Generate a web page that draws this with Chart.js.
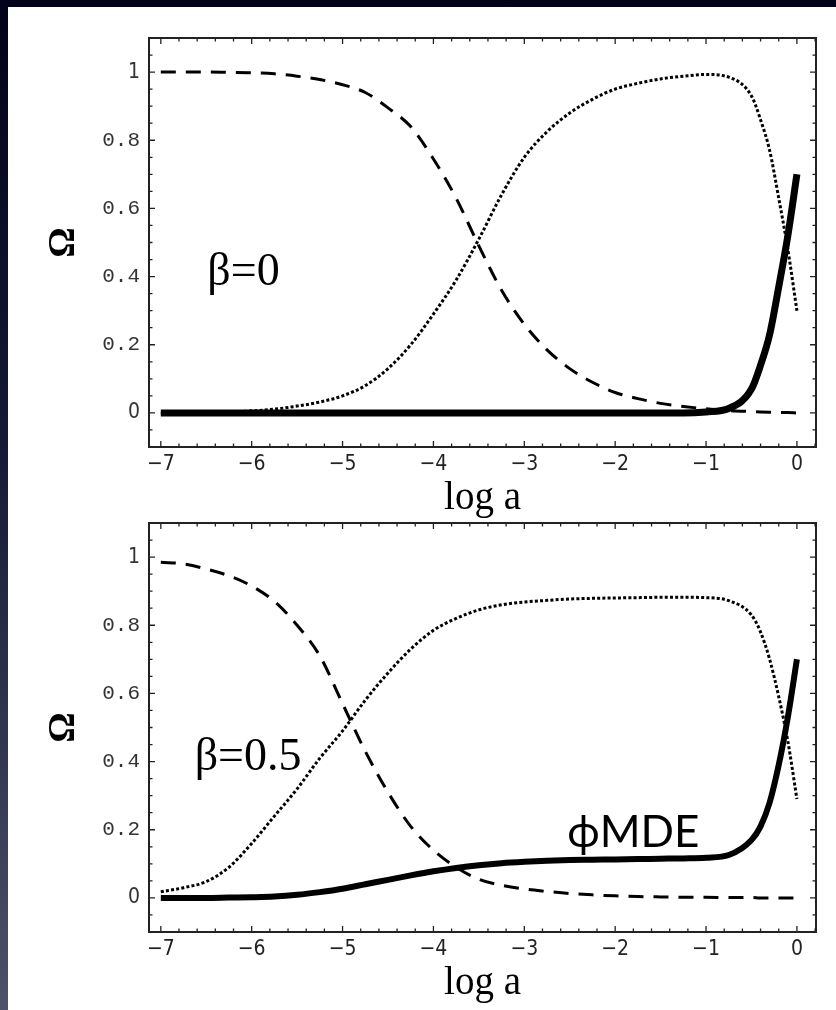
<!DOCTYPE html>
<html>
<head>
<meta charset="utf-8">
<script src="https://cdn.jsdelivr.net/npm/chart.js@4/dist/chart.umd.min.js"></script>
<style>
  html, body { margin: 0; padding: 0; }
  body {
    width: 836px; height: 1010px; position: relative; overflow: hidden;
    background: linear-gradient(to bottom, #02031a 0%, #151a36 45%, #4d5169 100%);
  }
  #sheet { position: absolute; left: 8px; top: 7px; right: 0; bottom: 0; background: #fff; }
  .plot { position: absolute; left: 8px; width: 828px; height: 512px; }
</style>
</head>
<body>
<div id="sheet"></div>
<div class="plot" style="top:8px"><canvas id="top"></canvas></div>
<div class="plot" style="top:493px"><canvas id="bottom"></canvas></div>
<script>
// log a sample points
const logA = [-7, -6.75, -6.5, -6.25, -6, -5.75, -5.5, -5.25, -5, -4.75, -4.5, -4.25, -4,
  -3.75, -3.5, -3.25, -3, -2.75, -2.5, -2.25, -2, -1.75, -1.5, -1.25, -1, -0.75, -0.5,
  -0.4, -0.3, -0.2, -0.1, 0];

// beta = 0
const radiationB0 = [1, 1, 1, 0.999, 0.998, 0.995, 0.988, 0.978, 0.963, 0.94, 0.895, 0.84, 0.745,
  0.63, 0.49, 0.36, 0.26, 0.185, 0.13, 0.09, 0.06, 0.042, 0.028, 0.019, 0.012, 0.007, 0.004,
  0.003, 0.002, 0.001, 0.001, 0];
const matterB0 = [0, 0, 0.001, 0.003, 0.006, 0.011, 0.02, 0.032, 0.05, 0.08, 0.13, 0.2, 0.29,
  0.39, 0.51, 0.64, 0.75, 0.825, 0.88, 0.92, 0.95, 0.967, 0.98, 0.988, 0.993, 0.985, 0.93,
  0.86, 0.77, 0.63, 0.48, 0.3];
const lambdaB0 = [0, 0, 0, 0, 0, 0, 0, 0, 0, 0, 0, 0, 0,
  0, 0, 0, 0, 0, 0, 0, 0, 0, 0, 0, 0.003, 0.013, 0.07,
  0.14, 0.23, 0.37, 0.52, 0.7];

// beta = 0.5
const radiationB05 = [0.985, 0.98, 0.965, 0.945, 0.915, 0.87, 0.8, 0.71, 0.57, 0.43, 0.31, 0.21, 0.14,
  0.09, 0.055, 0.037, 0.026, 0.019, 0.013, 0.009, 0.006, 0.004, 0.003, 0.002, 0.002, 0.001, 0.001,
  0, 0, 0, 0, 0];
const matterB05 = [0.018, 0.03, 0.048, 0.09, 0.16, 0.24, 0.32, 0.41, 0.49, 0.58, 0.66, 0.73, 0.785,
  0.82, 0.845, 0.86, 0.868, 0.873, 0.877, 0.879, 0.88, 0.881, 0.882, 0.882, 0.881, 0.872, 0.83,
  0.78, 0.7, 0.59, 0.46, 0.29];
const phiB05 = [0, 0, 0, 0.001, 0.002, 0.004, 0.009, 0.017, 0.027, 0.04, 0.053, 0.066, 0.078,
  0.088, 0.096, 0.102, 0.106, 0.109, 0.111, 0.112, 0.113, 0.114, 0.115, 0.116, 0.118, 0.126, 0.17,
  0.21, 0.28, 0.39, 0.53, 0.7];

const xTickValues = [-7, -6, -5, -4, -3, -2, -1, 0];
const yTickValues = [0, 0.2, 0.4, 0.6, 0.8, 1];
const yTickLabels = ["0", "0.2", "0.4", "0.6", "0.8", "1"];

const pts = (ys) => logA.map((x, i) => ({ x: x, y: ys[i] }));

// Mathematica style frame: box with inward ticks on all four sides
const framePlugin = {
  id: "frame",
  beforeDatasetsDraw(chart) {
    const { ctx, chartArea: a, scales: { x, y } } = chart;
    ctx.save();
    ctx.strokeStyle = "#222";
    ctx.lineWidth = 1.3;
    ctx.beginPath();
    for (let k = -36; k <= 2; k++) {
      const v = k / 5;
      if (v < x.min || v > x.max) continue;
      const px = x.getPixelForValue(v);
      const len = k % 5 === 0 ? 6 : 3.5;
      ctx.moveTo(px, a.bottom); ctx.lineTo(px, a.bottom - len);
      ctx.moveTo(px, a.top); ctx.lineTo(px, a.top + len);
    }
    for (let k = -2; k <= 22; k++) {
      const v = k / 20;
      if (v < y.min || v > y.max) continue;
      const py = y.getPixelForValue(v);
      const len = k % 4 === 0 ? 6 : 3.5;
      ctx.moveTo(a.left, py); ctx.lineTo(a.left + len, py);
      ctx.moveTo(a.right, py); ctx.lineTo(a.right - len, py);
    }
    ctx.stroke();
    ctx.lineWidth = 2;
    ctx.strokeRect(a.left, a.top, a.right - a.left, a.bottom - a.top);
    ctx.restore();
  }
};

const makeNotes = (notes) => ({
  id: "notes",
  afterDraw(chart) {
    const { ctx, scales: { x, y } } = chart;
    ctx.save();
    ctx.fillStyle = "#000";
    ctx.textAlign = "center";
    ctx.textBaseline = "middle";
    notes.forEach((n) => {
      ctx.font = n.font;
      ctx.fillText(n.text, x.getPixelForValue(n.x), y.getPixelForValue(n.y));
    });
    ctx.restore();
  }
});

const line = (data, kind, width) => ({
  data: pts(data),
  borderColor: "#000",
  borderWidth: width,
  borderDash: kind === "dash" ? [15, 10] : kind === "dot" ? [3, 2.2] : [],
  borderCapStyle: "butt",
  pointRadius: 0,
  fill: false,
  cubicInterpolationMode: "monotone",
});

const sansNarrow = "'DejaVu Sans Condensed', 'DejaVu Sans', sans-serif";

const createChart = (id, datasets, notes) => {
  return new Chart(document.getElementById(id), {
    type: "line",
    data: { datasets: datasets },
    options: {
      responsive: true,
      maintainAspectRatio: false,
      animation: false,
      events: [],
      layout: { padding: { top: 30, right: 20, left: 33, bottom: 0 } },
      plugins: { legend: { display: false }, tooltip: { enabled: false } },
      scales: {
        x: {
          type: "linear",
          min: -7.13,
          max: 0.21,
          afterFit: (s) => { s.height = 73; },
          afterBuildTicks: (s) => { s.ticks = xTickValues.map((v) => ({ value: v })); },
          grid: { display: false, drawTicks: false },
          border: { display: false },
          ticks: {
            padding: 5,
            color: "#222",
            font: { family: sansNarrow, size: 21 },
            callback: (v) => (v < 0 ? "\u2212" + Math.abs(v) : String(v)),
          },
          title: {
            display: true,
            text: "log a",
            color: "#000",
            padding: 0,
            font: { family: "'Liberation Serif', serif", size: 39, lineHeight: 1.1 },
          },
        },
        y: {
          min: -0.1,
          max: 1.1,
          afterFit: (s) => { s.width = 108; },
          afterBuildTicks: (s) => { s.ticks = yTickValues.map((v) => ({ value: v })); },
          grid: { display: false, drawTicks: false },
          border: { display: false },
          ticks: {
            padding: 9,
            color: "#333",
            font: (c) => (c.tick && (c.tick.value === 0 || c.tick.value === 1)
              ? { family: sansNarrow, size: 21 }
              : { family: "'Liberation Mono', monospace", size: 21 }),
            callback: (v) => yTickLabels[yTickValues.indexOf(v)],
          },
          title: {
            display: true,
            text: "\u03a9",
            color: "#000",
            padding: 0,
            font: { family: "'Liberation Serif', serif", size: 38, weight: "bold" },
          },
        },
      },
    },
    plugins: [framePlugin, makeNotes(notes)],
  });
};

createChart("top", [
  line(lambdaB0, "solid", 7),
  line(radiationB0, "dash", 3),
  line(matterB0, "dot", 3),
], [
  { text: "\u03b2=0", x: -6.09, y: 0.41, font: "46px 'Liberation Serif', serif" },
]);

createChart("bottom", [
  line(phiB05, "solid", 6),
  line(radiationB05, "dash", 3),
  line(matterB05, "dot", 3),
], [
  { text: "\u03b2=0.5", x: -6.04, y: 0.41, font: "46px 'Liberation Serif', serif" },
  { text: "\u03d5MDE", x: -1.8, y: 0.19, font: "44px Lato, 'DejaVu Sans', sans-serif" },
]);
</script>
</body>
</html>
